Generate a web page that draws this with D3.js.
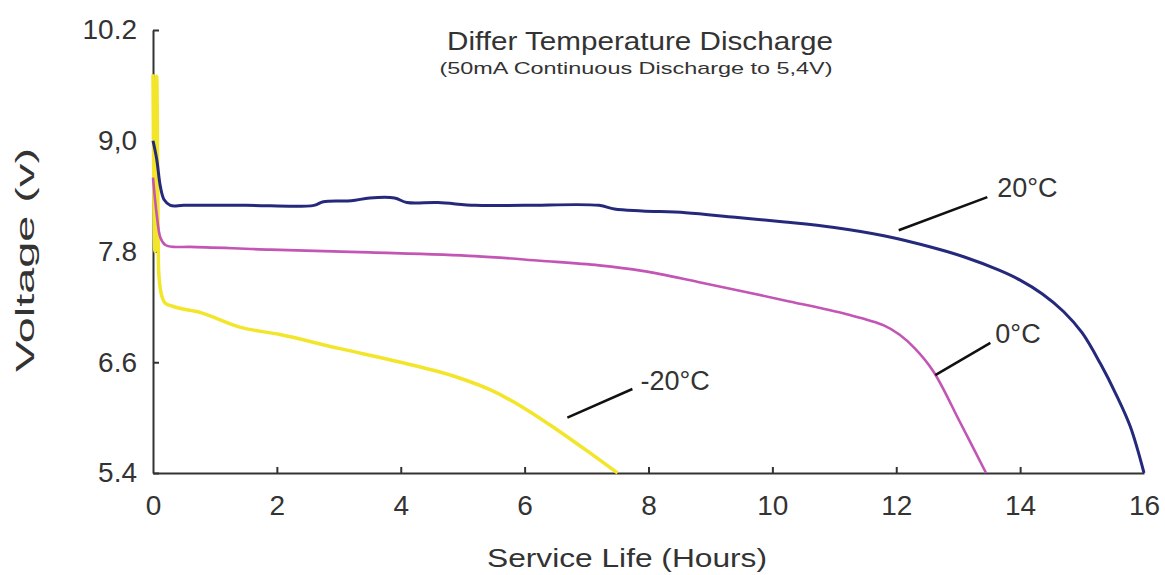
<!DOCTYPE html>
<html lang="en">
<head>
    <meta charset="utf-8">
    <title>Differ Temperature Discharge</title>
    <script src="https://d3js.org/d3.v7.min.js"></script>
    <style>
        body { margin: 0; background: #fff; }
        text { font-family: "Liberation Sans", Arial, sans-serif; fill: #333; }
    </style>
</head>
<body>
    <div id="chart-container"></div>

    <script>
        // ---- data (hours, volts) ----
        const hourTicks = [0, 2, 4, 6, 8, 10, 12, 14, 16];
        const voltTicks = [10.2, 9.0, 7.8, 6.6, 5.4];
        const voltTickLabels = ['10.2', '9,0', '7.8', '6.6', '5.4'];

        const series20 = [
            [0, 9.0], [0.06, 8.8], [0.12, 8.5], [0.18, 8.36], [0.28, 8.30], [0.5, 8.30],
            [1.5, 8.30], [2.6, 8.30], [2.75, 8.34], [3.2, 8.35], [3.5, 8.38], [3.9, 8.38],
            [4.1, 8.33], [4.6, 8.33], [5.2, 8.30], [6.0, 8.30], [7.2, 8.30], [7.45, 8.26],
            [7.9, 8.24], [8.6, 8.22], [9.4, 8.17], [10.2, 8.12], [11.0, 8.06], [11.8, 7.97],
            [12.6, 7.84], [13.1, 7.74], [13.65, 7.60], [14.0, 7.49], [14.36, 7.34],
            [14.7, 7.15], [15.0, 6.92], [15.3, 6.58], [15.55, 6.25], [15.78, 5.90], [16.0, 5.40]
        ];
        const series0 = [
            [0, 8.6], [0.06, 8.2], [0.12, 7.95], [0.2, 7.87], [0.33, 7.85], [0.6, 7.85],
            [1.9, 7.82], [3.5, 7.79], [5.2, 7.75], [6.25, 7.70], [7.2, 7.65], [7.9, 7.59],
            [8.8, 7.47], [10.2, 7.27], [11.2, 7.12], [11.8, 7.0], [12.05, 6.9], [12.3, 6.75],
            [12.6, 6.50], [13.03, 5.95], [13.45, 5.40]
        ];
        const seriesMinus20 = [
            [0, 9.72], [0.03, 7.8], [0.06, 9.7], [0.09, 7.6], [0.13, 7.35], [0.2, 7.24],
            [0.3, 7.21], [0.76, 7.14], [1.4, 6.98], [2.05, 6.90], [3.0, 6.75], [4.0, 6.60],
            [4.9, 6.44], [5.45, 6.30], [6.0, 6.10], [6.5, 5.88], [7.05, 5.62], [7.5, 5.40]
        ];

        // callouts: label, line start/end and text anchor in (hours, volts)
        const callouts = [
            { label: '20°C', from: [12.04, 8.03], to: [13.47, 8.39], text: [13.63, 8.39] },
            { label: '0°C', from: [12.63, 6.46], to: [13.52, 6.81], text: [13.6, 6.81] },
            { label: '-20°C', from: [6.69, 6.0], to: [7.74, 6.31], text: [7.87, 6.30] }
        ];

        const width = 1165;
        const height = 575;

        const svg = d3.select('#chart-container')
            .append('svg')
            .attr('width', width)
            .attr('height', height);

        const xScale = d3.scaleLinear().domain([0, 16]).range([153, 1144]);
        const yScale = d3.scaleLinear().domain([5.4, 10.2]).range([473, 30]);

        // axes
        const xAxis = d3.axisBottom(xScale)
            .tickValues(hourTicks)
            .tickSize(-6)
            .tickSizeOuter(0)
            .tickPadding(22);
        const yAxis = d3.axisLeft(yScale)
            .tickValues(voltTicks)
            .tickFormat((d, i) => voltTickLabels[i])
            .tickSize(-6)
            .tickSizeOuter(0)
            .tickPadding(16);

        const gx = svg.append('g')
            .attr('transform', `translate(0,${yScale(5.4)})`)
            .call(xAxis);
        const gy = svg.append('g')
            .attr('transform', `translate(${xScale(0)},0)`)
            .call(yAxis);

        [gx, gy].forEach(g => {
            g.select('.domain').attr('stroke', '#333').attr('stroke-width', 2);
            g.selectAll('.tick line').attr('stroke', '#333').attr('stroke-width', 2);
            g.selectAll('.tick text')
                .style('font-size', '28px')
                .style('font-family', '"Liberation Sans", Arial, sans-serif')
                .attr('fill', '#333');
        });
        gx.selectAll('.tick').filter(d => d === 0 || d === 16).select('line').remove();

        // data lines (yellow first, blue on top)
        const smoothLine = d3.line()
            .x(d => xScale(d[0]))
            .y(d => yScale(d[1]))
            .curve(d3.curveCatmullRom.alpha(0.5));
        const monoLine = d3.line()
            .x(d => xScale(d[0]))
            .y(d => yScale(d[1]))
            .curve(d3.curveMonotoneX);

        const lineData = [
            { values: seriesMinus20, colour: '#f2e52a', w: 3.5, gen: monoLine },
            { values: series0, colour: '#c355b4', w: 2.6, gen: smoothLine },
            { values: series20, colour: '#25297c', w: 3, gen: smoothLine }
        ];

        svg.selectAll('path.line')
            .data(lineData)
            .enter()
            .append('path')
            .attr('class', 'line')
            .attr('d', d => d.gen(d.values))
            .attr('fill', 'none')
            .attr('stroke', d => d.colour)
            .attr('stroke-width', d => d.w)
            .attr('stroke-linejoin', 'round');

        // callout lines and labels
        svg.selectAll('line.callout')
            .data(callouts)
            .enter()
            .append('line')
            .attr('class', 'callout')
            .attr('x1', d => xScale(d.from[0]))
            .attr('y1', d => yScale(d.from[1]))
            .attr('x2', d => xScale(d.to[0]))
            .attr('y2', d => yScale(d.to[1]))
            .attr('stroke', '#111')
            .attr('stroke-width', 2.5);

        svg.selectAll('text.callout')
            .data(callouts)
            .enter()
            .append('text')
            .attr('class', 'callout')
            .attr('x', d => xScale(d.text[0]))
            .attr('y', d => yScale(d.text[1]))
            .style('font-size', '27px')
            .text(d => d.label);

        // titles
        svg.append('text')
            .attr('x', 640)
            .attr('y', 50)
            .attr('text-anchor', 'middle')
            .attr('textLength', 386)
            .attr('lengthAdjust', 'spacingAndGlyphs')
            .style('font-size', '25px')
            .text('Differ Temperature Discharge');
        svg.append('text')
            .attr('x', 636)
            .attr('y', 74)
            .attr('text-anchor', 'middle')
            .attr('textLength', 393)
            .attr('lengthAdjust', 'spacingAndGlyphs')
            .style('font-size', '17px')
            .text('(50mA Continuous Discharge to 5,4V)');

        // axis titles
        svg.append('text')
            .attr('x', 627)
            .attr('y', 567)
            .attr('text-anchor', 'middle')
            .attr('textLength', 280)
            .attr('lengthAdjust', 'spacingAndGlyphs')
            .style('font-size', '25px')
            .text('Service Life (Hours)');
        svg.append('text')
            .attr('transform', 'rotate(-90)')
            .attr('x', -260)
            .attr('y', 34)
            .attr('text-anchor', 'middle')
            .attr('textLength', 224)
            .attr('lengthAdjust', 'spacingAndGlyphs')
            .style('font-size', '25px')
            .text('Voltage (v)');
    </script>
</body>
</html>
